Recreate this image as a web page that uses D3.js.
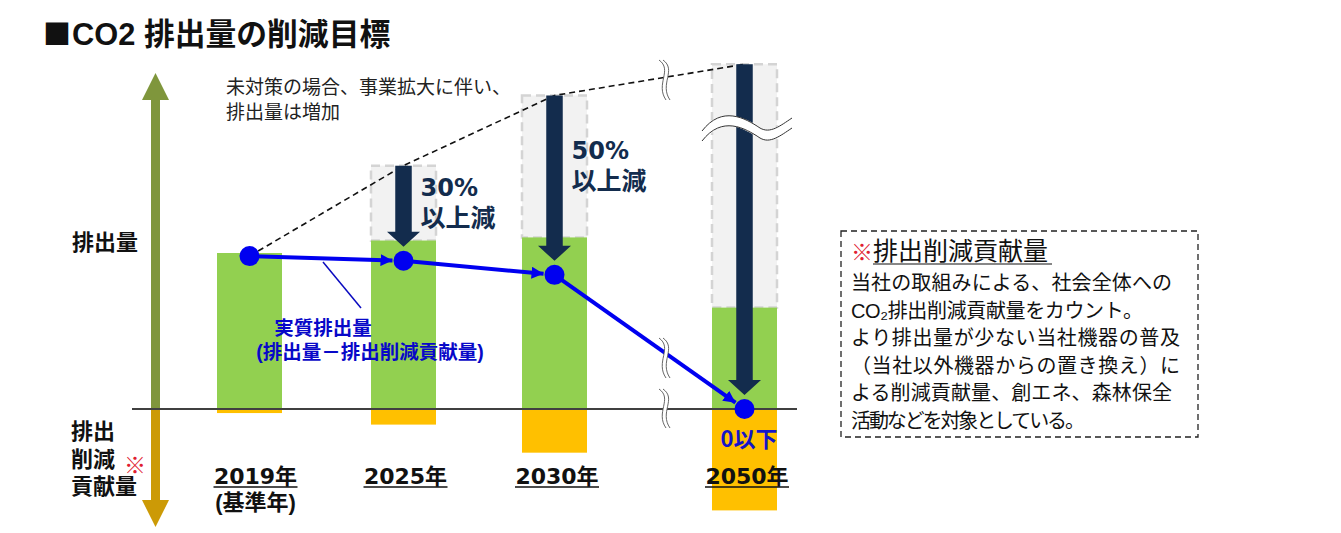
<!DOCTYPE html>
<html lang="ja">
<head>
<meta charset="utf-8">
<script src="https://cdn.jsdelivr.net/npm/d3@7"></script>
<style>
  html, body { margin: 0; background: #fff; }
  svg { display: block; }
  text { font-family: "Liberation Sans", "Noto Sans CJK JP", sans-serif; }
  text.wide { font-family: "DejaVu Sans", "Noto Sans CJK JP", sans-serif; }
  text.cjk { font-family: "Noto Sans CJK JP", sans-serif; }
</style>
</head>
<body>
<svg id="chart" width="1341" height="533"></svg>
<script>
  const years = [2019, 2025, 2030, 2050];
  const yearLabels = ["2019年", "2025年", "2030年", "2050年"];
  // 2019 emissions = 100
  const emissions = [100, 108, 110, 65];
  const contribution = [2.6, 10, 28, 65];
  const unabated = [100, 156, 201, 221];
  const netEmissions = [98, 95, 86, 0];
  const reductionLabels = [null, ["30%", "以上減"], ["50%", "以上減"], null];
  const noteLines = [
    "当社の取組みによる、社会全体への",
    "CO₂排出削減貢献量をカウント。",
    "より排出量が少ない当社機器の普及",
    "（当社以外機器からの置き換え）に",
    "よる削減貢献量、創エネ、森林保全",
    "活動などを対象としている。"
  ];
  // the original font sets kana tighter, so fit each line to its width
  const noteWidths = [321, 292, 329, 329, 321, 234];

  const GREEN = "#92d050";
  const GOLD = "#ffc000";
  const NAVY = "#132c4d";
  const BLUE = "#0000f0";

  const svg = d3.select("#chart");
  const x = d3.scaleLinear().domain(years).range([249.5, 403.5, 554.5, 744.5]);
  const y = d3.scaleLinear().domain([0, 100]).range([409, 253]);
  const barW = 65;

  function label(sel, px, py, size, str, opts = {}) {
    return sel.append("text")
      .attr("class", opts.cls || null)
      .attr("x", px).attr("y", py)
      .attr("font-size", size)
      .attr("font-weight", opts.weight || 400)
      .attr("fill", opts.fill || "#111")
      .attr("text-anchor", opts.anchor || "start")
      .text(str);
  }

  // block arrow, pointing from y0 to y1
  function blockArrow(px, y0, y1, shaftW, headW, headL, fill) {
    const dir = y1 > y0 ? 1 : -1;
    const p = d3.path();
    p.moveTo(px - shaftW / 2, y0);
    p.lineTo(px - shaftW / 2, y1 - dir * headL);
    p.lineTo(px - headW / 2, y1 - dir * headL);
    p.lineTo(px, y1);
    p.lineTo(px + headW / 2, y1 - dir * headL);
    p.lineTo(px + shaftW / 2, y1 - dir * headL);
    p.lineTo(px + shaftW / 2, y0);
    p.closePath();
    svg.append("path").attr("d", p.toString()).attr("fill", fill);
  }

  label(svg, 43, 45, 28, "■", { weight: 700, cls: "cjk" });
  label(svg, 72, 45, 30.8, "CO2 排出量の削減目標", { weight: 700 });

  // side axis arrows
  blockArrow(155.5, 409, 73, 9, 27, 27, "#7f963c");
  blockArrow(155.5, 409, 527, 9, 27, 27, "#cc9a06");

  label(svg, 72, 250, 22, "排出量", { weight: 700 });
  label(svg, 71, 439, 22, "排出", { weight: 700 });
  label(svg, 71, 467, 22, "削減", { weight: 700 });
  label(svg, 71, 494, 22, "貢献量", { weight: 700 });
  label(svg, 124, 473, 22, "※", { fill: "#e02030", weight: 700 });

  // unabated emissions, dashed grey
  const ghost = svg.append("g");
  ghost.selectAll("rect")
    .data(years.slice(1))
    .join("rect")
    .attr("x", d => x(d) - barW / 2)
    .attr("y", d => y(unabated[years.indexOf(d)]))
    .attr("width", barW)
    .attr("height", d => y(emissions[years.indexOf(d)]) - y(unabated[years.indexOf(d)]))
    .attr("fill", "#f2f2f2")
    .attr("stroke", "#d4d4d4")
    .attr("stroke-width", 2.5)
    .attr("stroke-dasharray", "9 5");

  svg.append("g").selectAll("rect")
    .data(years)
    .join("rect")
    .attr("x", d => x(d) - barW / 2)
    .attr("y", (d, i) => y(emissions[i]))
    .attr("width", barW)
    .attr("height", (d, i) => y(0) - y(emissions[i]))
    .attr("fill", GREEN);

  svg.append("g").selectAll("rect")
    .data(years)
    .join("rect")
    .attr("x", d => x(d) - barW / 2)
    .attr("y", y(0))
    .attr("width", barW)
    .attr("height", (d, i) => y(0) - y(contribution[i]))
    .attr("fill", GOLD);

  // baseline
  svg.append("line")
    .attr("x1", 132).attr("x2", 797)
    .attr("y1", y(0)).attr("y2", y(0))
    .attr("stroke", "#404040").attr("stroke-width", 2);

  // dashed "no action" line
  svg.append("path")
    .attr("d", d3.line().x(d => x(d)).y((d, i) => y(i === 0 ? netEmissions[0] : unabated[i]))(years))
    .attr("fill", "none")
    .attr("stroke", "#111")
    .attr("stroke-width", 1.6)
    .attr("stroke-dasharray", "6 4");

  label(svg, 226, 94, 19, "未対策の場合、事業拡大に伴い、", { fill: "#222" });
  label(svg, 226, 119, 19, "排出量は増加", { fill: "#222" });

  // navy reduction arrows
  years.forEach((d, i) => {
    if (i === 0) return;
    blockArrow(x(d), y(unabated[i]), y(netEmissions[i]) - 14, 16.5, 33, 15, NAVY);
  });

  reductionLabels.forEach((lines, i) => {
    if (!lines) return;
    const px = x(years[i]) + 17;
    const py = i === 1 ? 196 : 159;
    label(svg, px, py, 24, lines[0], { weight: 700, fill: NAVY, cls: "wide" });
    label(svg, px, py + 31, 25, lines[1], { weight: 700, fill: NAVY });
  });

  // axis break marks
  function breakMark(px, y0, y1) {
    const h = y1 - y0;
    const wave = dx => `M${px - 4 + dx},${y0} C${px + 10 + dx},${y0 + h * 0.25} ${px - 8 + dx},${y0 + h * 0.6} ${px + 3 + dx},${y1}`;
    svg.append("path").attr("d", wave(2)).attr("fill", "none").attr("stroke", "#fff").attr("stroke-width", 4);
    svg.append("path").attr("d", wave(0)).attr("fill", "none").attr("stroke", "#555").attr("stroke-width", 0.9);
    svg.append("path").attr("d", wave(4)).attr("fill", "none").attr("stroke", "#555").attr("stroke-width", 0.9);
  }

  // net emissions line, segment by segment with small arrowheads
  svg.append("defs").append("marker")
    .attr("id", "tip")
    .attr("viewBox", "0 0 10 10")
    .attr("refX", 10).attr("refY", 5)
    .attr("markerWidth", 12).attr("markerHeight", 12)
    .attr("markerUnits", "userSpaceOnUse")
    .attr("orient", "auto")
    .append("path").attr("d", "M0,0L10,5L0,10Z").attr("fill", BLUE);

  d3.pairs(years.map((d, i) => [x(d), y(netEmissions[i])])).forEach(([a, b]) => {
    const len = Math.hypot(b[0] - a[0], b[1] - a[1]);
    const t = (len - 11) / len;
    svg.append("line")
      .attr("x1", a[0]).attr("y1", a[1])
      .attr("x2", a[0] + (b[0] - a[0]) * t).attr("y2", a[1] + (b[1] - a[1]) * t)
      .attr("stroke", BLUE).attr("stroke-width", 4)
      .attr("marker-end", "url(#tip)");
  });

  breakMark(663, 60, 100);
  breakMark(663, 338, 378);
  breakMark(663, 389, 428);

  // wave across the 2050 bar
  function wavePath(dy) {
    const p = d3.path();
    p.moveTo(702, 131 + dy);
    p.bezierCurveTo(722, 105 + dy, 745, 118 + dy, 760, 128 + dy);
    p.bezierCurveTo(770, 134 + dy, 780, 126 + dy, 792, 118 + dy);
    return p.toString();
  }
  svg.append("path").attr("d", wavePath(5)).attr("fill", "none").attr("stroke", "#fff").attr("stroke-width", 10);
  [0, 10].forEach(dy => {
    svg.append("path").attr("d", wavePath(dy)).attr("fill", "none").attr("stroke", "#333").attr("stroke-width", 1);
  });

  svg.append("g").selectAll("circle")
    .data(years)
    .join("circle")
    .attr("cx", d => x(d))
    .attr("cy", (d, i) => y(netEmissions[i]))
    .attr("r", 10)
    .attr("fill", BLUE);

  // leader to the net emissions label
  svg.append("line")
    .attr("x1", 323).attr("y1", 262)
    .attr("x2", 361).attr("y2", 308)
    .attr("stroke", "#0a0ac0").attr("stroke-width", 1.5);

  label(svg, 323, 335, 19.5, "実質排出量", { weight: 700, fill: "#0808c8", anchor: "middle" });
  label(svg, 370, 359, 19.5, "(排出量－排出削減貢献量)", { weight: 700, fill: "#0808c8", anchor: "middle" });
  label(svg, 749, 447, 22, "0以下", { weight: 700, fill: "#1414c8", anchor: "middle", cls: "cjk" });

  // year labels
  yearLabels.forEach((s, i) => {
    const cx = [255.5, 405.5, 557, 747][i];
    label(svg, cx, 484, 22, s, { weight: 700, anchor: "middle", cls: "wide" });
    svg.append("line")
      .attr("x1", cx - 42).attr("x2", cx + 42)
      .attr("y1", 487).attr("y2", 487)
      .attr("stroke", "#111").attr("stroke-width", 1.5);
  });
  label(svg, 255.5, 510, 22, "(基準年)", { weight: 700, anchor: "middle" });

  // note box
  svg.append("rect")
    .attr("x", 841).attr("y", 231)
    .attr("width", 357).attr("height", 206)
    .attr("fill", "#fff")
    .attr("stroke", "#222").attr("stroke-width", 1.3)
    .attr("stroke-dasharray", "6 4");

  label(svg, 851, 260, 22, "※", { fill: "#e02030" });
  label(svg, 873, 260, 25, "排出削減貢献量");
  svg.append("line")
    .attr("x1", 873).attr("x2", 1052)
    .attr("y1", 264).attr("y2", 264)
    .attr("stroke", "#111").attr("stroke-width", 1.2);

  noteLines.forEach((s, i) => {
    label(svg, 851, 290 + i * 27.6, 20, s)
      .attr("textLength", noteWidths[i])
      .attr("lengthAdjust", "spacing");
  });
</script>
</body>
</html>
